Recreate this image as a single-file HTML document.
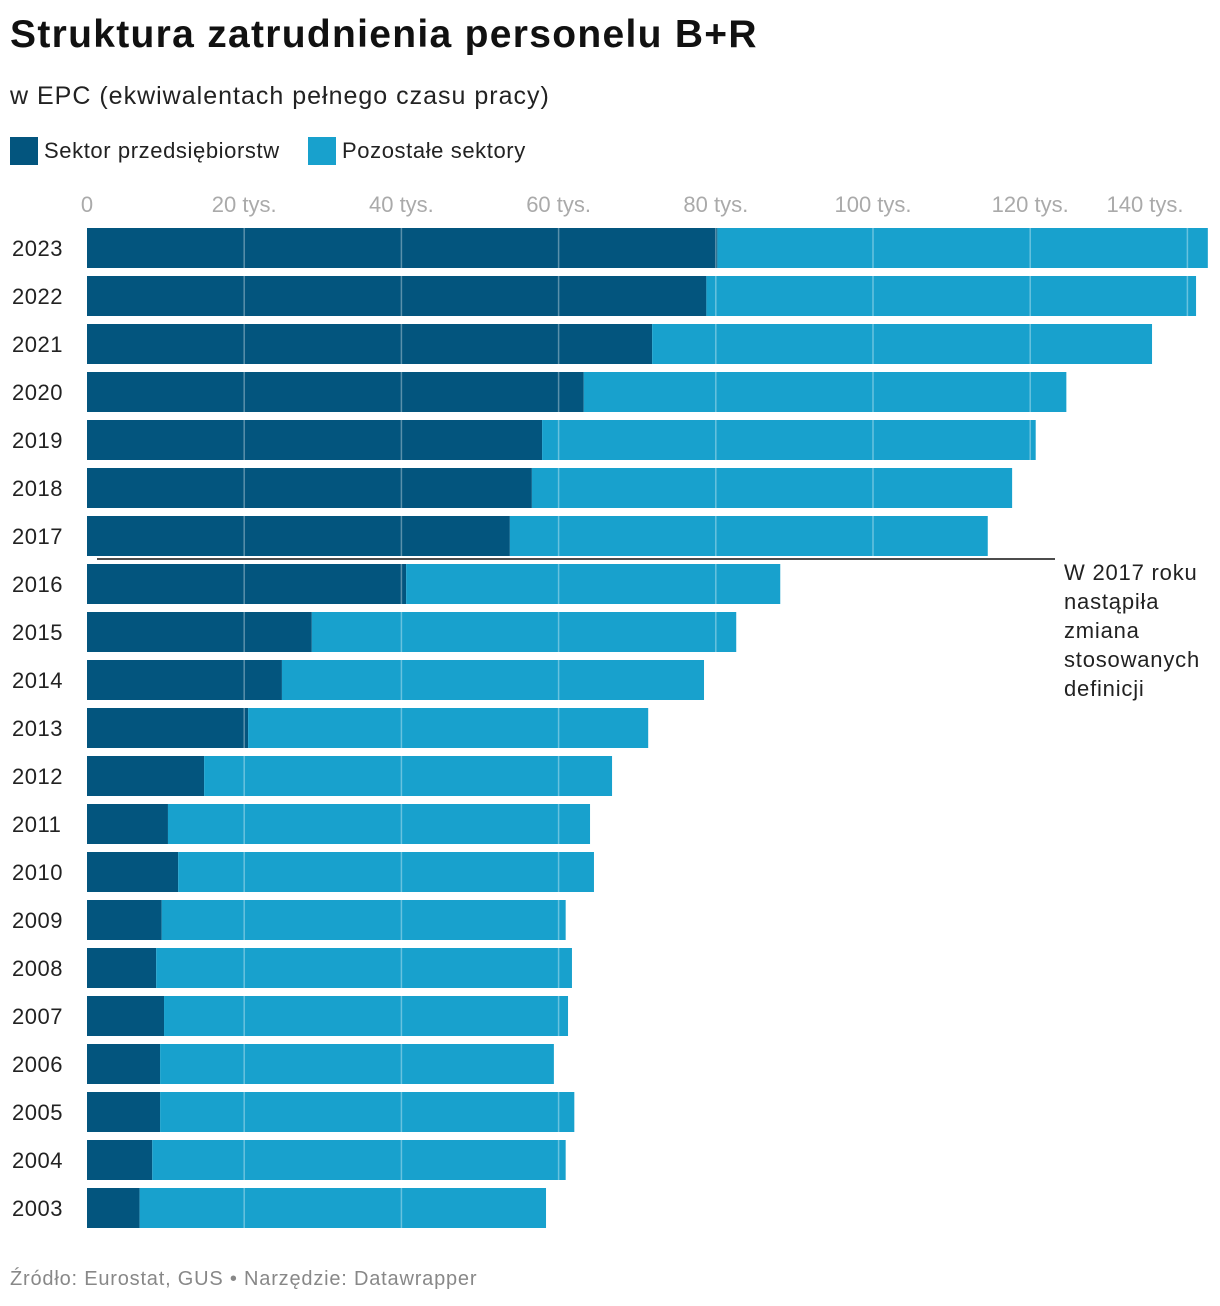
<!DOCTYPE html>
<html><head><meta charset="utf-8"><style>
body{margin:0;background:#fff;width:1220px;height:1306px;overflow:hidden;font-family:"Liberation Sans",sans-serif;}
#title{position:absolute;left:10px;top:13px;font-size:39px;font-weight:bold;color:#111;letter-spacing:1.3px}
#sub{position:absolute;left:10px;top:82px;font-size:25px;color:#222;letter-spacing:1px}
.leg{position:absolute;top:137px;font-size:22px;color:#222;display:flex;align-items:center;letter-spacing:0.6px}
.leg span{display:inline-block;width:28px;height:28px;margin-right:6px}
#src{position:absolute;left:10px;top:1268px;font-size:20px;color:#888;letter-spacing:0.8px}
svg{position:absolute;left:0;top:0}
</style></head><body>
<div id="title">Struktura zatrudnienia personelu B+R</div>
<div id="sub">w EPC (ekwiwalentach pełnego czasu pracy)</div>
<div class="leg" style="left:10px"><span style="background:#03557e"></span>Sektor przedsiębiorstw</div>
<div class="leg" style="left:308px"><span style="background:#18a1cd"></span>Pozostałe sektory</div>
<svg id="chart" width="1220" height="1306"></svg>
<div id="src">Źródło: Eurostat, GUS • Narzędzie: Datawrapper</div>
<script>
const years=[2023,2022,2021,2020,2019,2018,2017,2016,2015,2014,2013,2012,2011,2010,2009,2008,2007,2006,2005,2004,2003];
const business=[80.2,78.8,71.9,63.2,57.9,56.6,53.8,40.6,28.6,24.8,20.5,14.9,10.3,11.6,9.5,8.8,9.8,9.3,9.3,8.3,6.7];
const totals=[142.6,141.1,135.5,124.6,120.7,117.7,114.6,88.2,82.6,78.5,71.4,66.8,64.0,64.5,60.9,61.7,61.2,59.4,62.0,60.9,58.4];
const ticks=[0,20,40,60,80,100,120,140];
const tickLabels=["0","20 tys.","40 tys.","60 tys.","80 tys.","100 tys.","120 tys.","140 tys."];
const NS="http://www.w3.org/2000/svg";
const svg=document.getElementById('chart');
const x=v=>87+v*7.86;
const y=i=>228+i*48;
function mk(t,a){const e=document.createElementNS(NS,t);for(const k in a)e.setAttribute(k,a[k]);svg.appendChild(e);return e;}
years.forEach((yr,i)=>{
 const l=mk('text',{x:12,y:y(i)+28,'font-size':22,fill:'#222','letter-spacing':0.5});l.textContent=yr;
 
 
 const b=mk('rect',{x:x(0),y:y(i),width:x(business[i])-x(0),height:40,fill:'#03557e'});
 
 
 const o=mk('rect',{x:x(business[i]),y:y(i),width:x(totals[i])-x(business[i]),height:40,fill:'#18a1cd'});
 
 
});
ticks.forEach((t,i)=>{
 if(t>0){const g=mk('line',{x1:x(t),x2:x(t),y1:224,y2:1230,stroke:'#fff','stroke-opacity':0.35,'stroke-width':1.5});
 
 }
 let cx=x(t); if(i===ticks.length-1)cx=1145;
 const tl=mk('text',{x:cx,y:212,'font-size':22,fill:'#aaa','text-anchor':'middle'});tl.textContent=tickLabels[i];
 
 
});
const al=mk('line',{x1:97,x2:1055,y1:559,y2:559,stroke:'#111','stroke-width':1.5});


["W 2017 roku","nastąpiła","zmiana","stosowanych","definicji"].forEach((s,i)=>{
 const t=mk('text',{x:1064,y:580+i*29,'font-size':22,fill:'#222','letter-spacing':0.8});t.textContent=s;
 
 
});
</script>
</body></html>
